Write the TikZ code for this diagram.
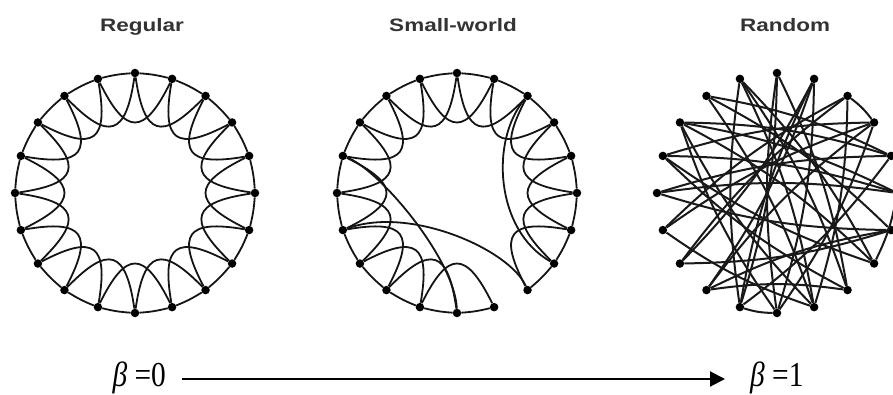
\documentclass[tikz,border=0pt]{standalone}
\usepackage{graphicx}
\usepackage{fontspec}
\setmainfont{Liberation Serif}
\newfontfamily\titlefont{Liberation Sans}
\usetikzlibrary{calc,arrows.meta}
\begin{document}
\begin{tikzpicture}[x=1pt,y=1pt,
  dot/.style={circle,fill=black,inner sep=0pt,minimum size=8.5pt},
  edge/.style={line width=1.8pt,black!92},
  rim/.style={edge,bend left=5},
  redge/.style={line width=2pt,black!90,bend left=8},
  ttl/.style={font=\titlefont\bfseries\fontsize{18}{18}\selectfont,text=black!80,anchor=base,inner sep=0pt},
  betatxt/.style={font=\fontsize{35}{35}\selectfont,inner sep=0pt}]
\useasboundingbox (0,0) rectangle (893,394);
% centres
\coordinate (rc) at (135,201);
\coordinate (sc) at (457,201);
\coordinate (qc) at (777,201);
% titles
\node[ttl] (t1) at (142,362) {\scalebox{1.25}[1]{Regular}};
\node[ttl] (t2) at (453,362) {\scalebox{1.25}[1]{Small-world}};
\node[ttl] (t3) at (785,362) {\scalebox{1.25}[1]{Random}};
% dots
\foreach \p in {r,s,q}{
  \foreach \i in {0,...,19}{
    \node[dot] (\p\i) at ($(\p c)+({90-18*\i}:120)$) {};
  }
}
% regular
\foreach \i in {0,...,19}{
  \pgfmathtruncatemacro\j{mod(\i+1,20)}
  \pgfmathtruncatemacro\k{mod(\i+2,20)}
  \draw[rim] (r\i) to (r\j);
  \draw[edge] (r\i) .. controls ($(rc)+({90-18*\i-9}:58)$) and ($(rc)+({90-18*\i-27}:58)$) .. (r\k);
}
% small-world
\foreach \i in {0,...,19}{
  \pgfmathtruncatemacro\j{mod(\i+1,20)}
  \pgfmathtruncatemacro\k{mod(\i+2,20)}
  \ifnum\i=8 \else \draw[rim] (s\i) to (s\j); \fi
  \ifnum\i=7 \else\ifnum\i=8 \else
  \draw[edge] (s\i) .. controls ($(sc)+({90-18*\i-9}:58)$) and ($(sc)+({90-18*\i-27}:58)$) .. (s\k);
  \fi\fi
}
\draw[edge] (s14) .. controls (410,189) and (510,144) .. (s8);
\draw[edge] (s16) .. controls (380,224) and (455,134) .. (s10);
\draw[edge] (s2) .. controls (490,254) and (495,164) .. (s7);
% random
\foreach \a/\b in {2/3,10/11,5/7,0/11,0/8,19/8,19/7,1/13,1/12,18/6,18/9,17/5,17/4,16/5,16/3,15/5,15/4,14/3,14/2,13/2,12/3,11/19,10/17,10/0,9/17,9/14,8/16,7/16,6/15,6/13,4/11,3/10,2/9,1/10,19/9,18/4,17/7,11/1,12/8,12/6}{
  \draw[redge] (q\a) to (q\b);
}
% beta axis
\node[betatxt,anchor=base east] (b0) at (166,8) {\scalebox{0.84}[1]{\itshape β\upshape{} =0}};
\node[betatxt,anchor=base west] (b1) at (750,8) {\scalebox{0.84}[1]{\itshape β\upshape{} =1}};
\coordinate (a0) at (182,15);
\coordinate (a1) at (725,15);
\draw[line width=2pt,-{Triangle[length=15pt,width=15pt]}] (a0) -- (a1);
\end{tikzpicture}
\end{document}
